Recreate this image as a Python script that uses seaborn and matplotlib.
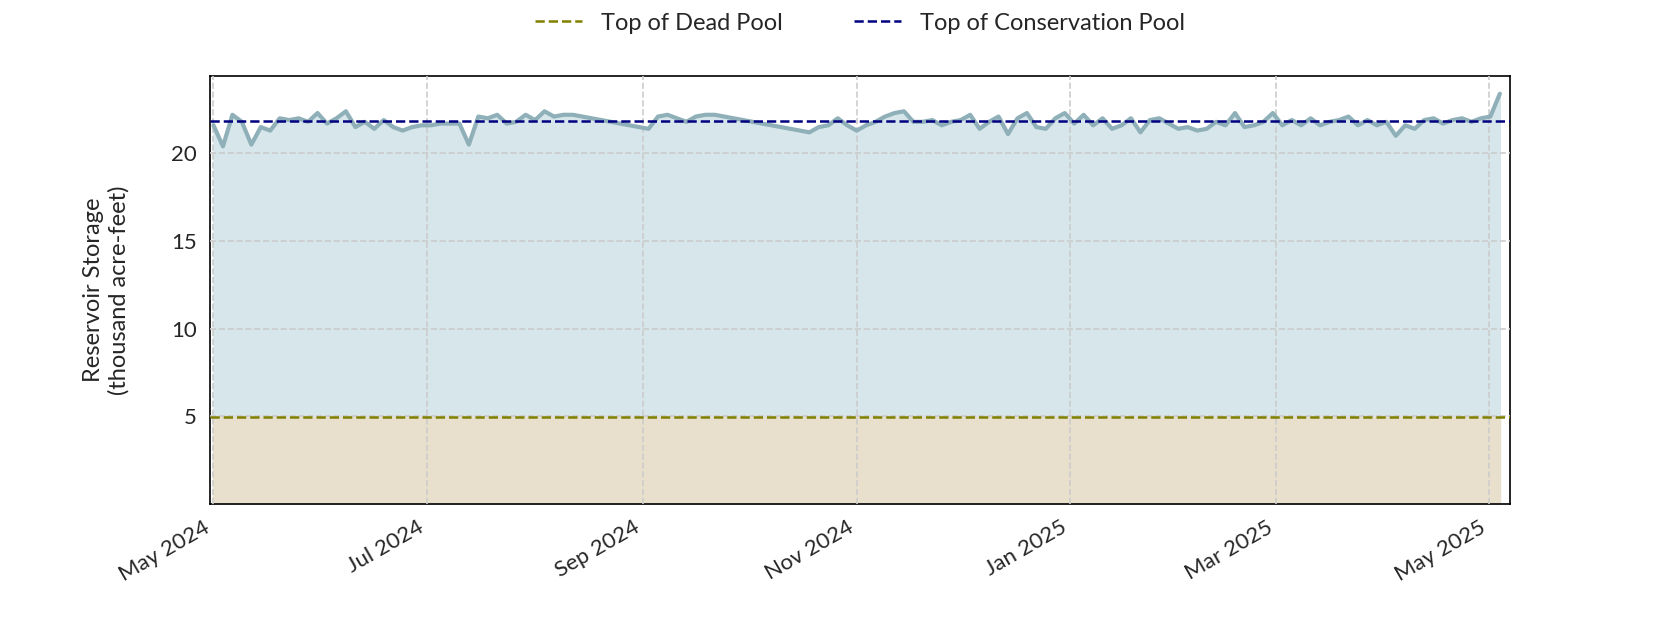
import numpy as np
import pandas as pd
import seaborn as sns
import matplotlib.pyplot as plt
import matplotlib.dates as mdates

STORAGE = [
    21.6, 20.4, 22.2, 21.8, 20.5, 21.5, 21.3, 22.0, 21.9, 22.0, 21.8, 22.3, 21.7, 22.0, 22.4,
    21.5, 21.8, 21.4, 21.9, 21.5, 21.3, 21.5, 21.6, 21.6, 21.7, 21.7, 21.7,
    20.5, 22.1, 22.0, 22.2, 21.7, 21.8, 22.2, 21.9, 22.4, 22.1, 22.2, 22.2, 22.1,
    22.0, 21.9, 21.8, 21.7, 21.6, 21.5, 21.4, 22.1, 22.2, 22.0, 21.8, 22.1,
    22.2, 22.2, 22.1, 22.0, 21.9, 21.8, 21.7, 21.6, 21.5, 21.4, 21.3, 21.2,
    21.5, 21.6, 22.0, 21.6, 21.3, 21.6, 21.8, 22.1, 22.3, 22.4, 21.8, 21.8,
    21.9, 21.6, 21.8, 21.9, 22.2, 21.4, 21.8, 22.1, 21.1, 22.0, 22.3, 21.5,
    21.4, 22.0, 22.3, 21.7, 22.2, 21.6, 22.0, 21.4, 21.6, 22.0, 21.2, 21.9,
    22.0, 21.7, 21.4, 21.5, 21.3, 21.4, 21.8, 21.6, 22.3, 21.5, 21.6, 21.8,
    22.3, 21.6, 21.9, 21.6, 22.0, 21.6, 21.8, 21.9, 22.1, 21.6, 21.9, 21.6,
    21.8, 21.0, 21.6, 21.4, 21.9, 22.0, 21.7, 21.9, 22.0, 21.8, 22.0, 22.1, 23.4,
]
DATES = pd.date_range("2024-05-01", "2025-05-04", periods=len(STORAGE))
DEAD_POOL = 4.95
CONSERVATION_POOL = 21.85

LINE_COLOR = "#8fb0b8"
FILL_COLOR = "#d6e6ea"
DEAD_FILL = "#e8e0cc"


def main():
    sns.set_theme(style="white")
    plt.rcParams["font.family"] = ["Lato", "DejaVu Sans"]
    df = pd.DataFrame({"date": DATES, "storage": STORAGE})

    fig, ax = plt.subplots(figsize=(16.8, 6.3), dpi=100)
    ax.fill_between(df["date"], 0, df["storage"], color=FILL_COLOR, zorder=1)
    ax.fill_between(df["date"], 0, DEAD_POOL, color=DEAD_FILL, zorder=1.5)
    sns.lineplot(ax=ax, data=df, x="date", y="storage", color=LINE_COLOR,
                 linewidth=3, zorder=3)
    ax.axhline(DEAD_POOL, color="#808000", linestyle="--", linewidth=1.8,
               label="Top of Dead Pool", zorder=4)
    ax.axhline(CONSERVATION_POOL, color="#000080", linestyle="--", linewidth=1.8,
               label="Top of Conservation Pool", zorder=4)

    ax.set_xlim(pd.Timestamp("2024-04-30"), pd.Timestamp("2025-05-07"))
    ax.set_ylim(0, 24.4)
    ax.set_yticks([5, 10, 15, 20])
    ax.xaxis.set_major_locator(mdates.MonthLocator(bymonth=[1, 3, 5, 7, 9, 11]))
    ax.xaxis.set_major_formatter(mdates.DateFormatter("%b %Y"))
    plt.setp(ax.get_xticklabels(), rotation=30, ha="right")
    ax.tick_params(labelsize=16)
    ax.set_xlabel("")
    ax.set_ylabel("Reservoir Storage\n(thousand acre-feet)", fontsize=17, labelpad=30)
    ax.grid(True, linestyle="--", color="#cccccc", linewidth=1.2)
    ax.set_axisbelow(False)
    for s in ax.spines.values():
        s.set_color("black")
        s.set_linewidth(1.2)
    ax.legend(loc="lower center", bbox_to_anchor=(0.5, 1.05), ncol=2, frameon=False,
              fontsize=17, columnspacing=3)

    fig.subplots_adjust(left=0.125, right=0.899, top=0.879, bottom=0.2)
    fig.savefig("out.png", dpi=100)


if __name__ == "__main__":
    main()
